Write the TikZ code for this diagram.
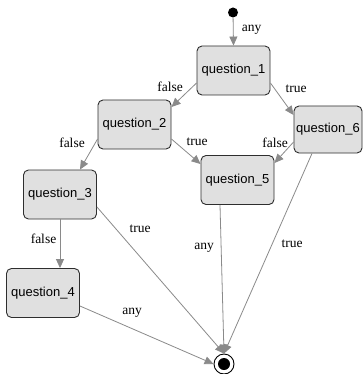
\documentclass[tikz,border=0pt]{standalone}
\usepackage{fontspec}
\setmainfont{Liberation Serif}
\newfontfamily\boxfont{Liberation Sans}
\usetikzlibrary{arrows.meta}
\definecolor{boxfill}{HTML}{E0E0E0}
\definecolor{boxline}{HTML}{2E2E2E}
\definecolor{edgegray}{HTML}{8A8A8A}
\tikzset{
  state/.style={draw=boxline, line width=0.9pt, fill=boxfill, rounded corners=5pt,
    inner sep=0pt, minimum width=73pt, minimum height=49pt,
    font=\boxfont\fontsize{13pt}{15pt}\selectfont},
  trans/.style={draw=edgegray, line width=0.8pt,
    -{Triangle[length=9pt,width=8pt,fill=edgegray]}},
  lbl/.style={font=\fontsize{13.5pt}{15pt}\selectfont, inner sep=0pt}
}
\begin{document}
\begin{tikzpicture}[x=1pt,y=-1pt]
\useasboundingbox (0,0) rectangle (363,374);
\fill[white] (0,0) rectangle (363,374);

% states
\node[state] (q1) at (233.5,70.5) {question\_1};
\node[state] (q2) at (134.5,124.5) {question\_2};
\node[state, minimum width=68pt, minimum height=47pt] (q6) at (328,129.5) {question\_6};
\node[state] (q5) at (237.5,180) {question\_5};
\node[state] (q3) at (60,194.5) {question\_3};
\node[state] (q4) at (43,293) {question\_4};

% initial and final pseudo-states
\node[circle, fill=black, inner sep=0pt, minimum size=10pt] (start) at (233,12.5) {};
\node[circle, draw=black, line width=0.9pt, fill=white, inner sep=0pt, minimum size=20pt] (final) at (224,364) {};
\node[circle, fill=black, inner sep=0pt, minimum size=12pt] (finaldot) at (final.center) {};

% transitions
\draw[trans] (start) -- (q1.north);
\draw[trans] (q1.west |- 0,83) -- (q2.north east |- 0,107);
\draw[trans] (q1.east |- 0,83) -- (q6.north west |- 0,115);
\draw[trans] (q2.west |- 0,139) -- ([xshift=20pt]q3.north);
\draw[trans] (q2.east |- 0,139) -- (q5.west |- 0,164);
\draw[trans] (q6.west |- 0,142) -- (q5.east |- 0,163);
\draw[trans] (q3.south) -- (q4.north -| q3.south);
\draw[trans] (q3.east |- 0,207) -- (final.north);
\draw[trans] (q4.east |- 0,306) -- (final.west);
\draw[trans] (q5.south -| 220,0) -- (final.north);
\draw[trans] (q6.south -| 312,0) -- (final.north);

% transition labels
\node[lbl] (l0) at (251.5,30) {any};
\node[lbl] (l1) at (170,87) {false};
\node[lbl] (l2) at (296,89) {true};
\node[lbl] (l3) at (72,143) {false};
\node[lbl] (l4) at (197,142) {true};
\node[lbl] (l5) at (275,143) {false};
\node[lbl] (l6) at (43.5,239) {false};
\node[lbl] (l7) at (140,229) {true};
\node[lbl] (l8) at (132,313) {any};
\node[lbl] (l9) at (204,248) {any};
\node[lbl] (l10) at (292,244) {true};
\end{tikzpicture}
\end{document}
